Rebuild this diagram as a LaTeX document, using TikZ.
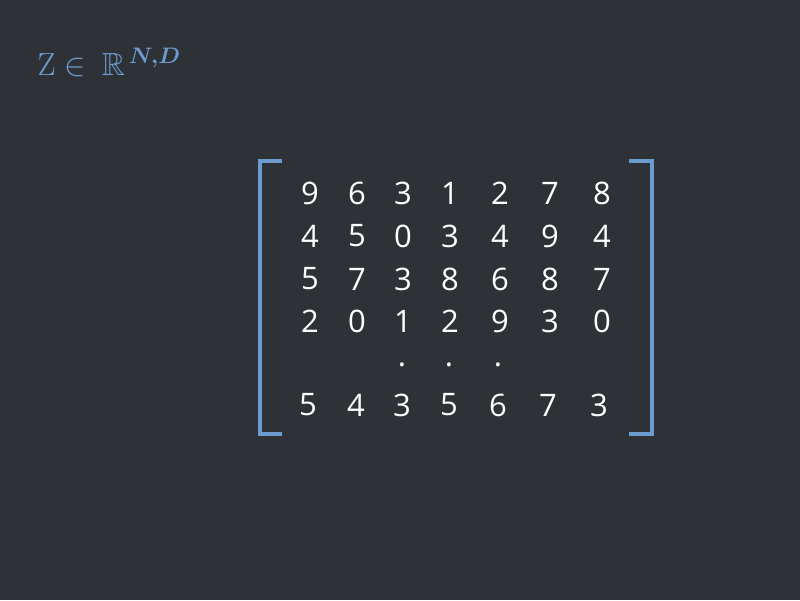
\documentclass[tikz,border=0pt]{standalone}
\usepackage{amsmath,amssymb,amsbsy}
\usepackage{fontspec}
\DeclareFontShape{OMS}{cmsy}{m}{n}{<->cmsy10}{}
\DeclareFontShape{OML}{cmm}{m}{it}{<->cmmi10}{}
\DeclareFontShape{OML}{cmm}{b}{it}{<->cmmib10}{}
\DeclareFontFamily{U}{msb}{}
\DeclareFontShape{U}{msb}{m}{n}{<-6>msbm5<6-8>msbm7<8->msbm10}{}
\newfontfamily\digitfont{Open Sans}
\definecolor{bgc}{RGB}{46,50,54}
\definecolor{accent}{RGB}{108,155,207}
\tikzset{
  digit/.style={inner sep=0pt, text=white, font=\digitfont\fontsize{31}{36}\selectfont},
  brk/.style={draw=accent, line width=4pt},
  titletext/.style={inner sep=0pt, text=accent, font=\fontsize{32}{38}\selectfont}
}
\begin{document}
\begin{tikzpicture}[x=1pt,y=-1pt]
\fill[bgc] (0,0) rectangle (800,600);
\useasboundingbox (0,0) rectangle (800,600);
\node[titletext, anchor=base west] (title) at (37.5,75) {$\mathrm{Z}\in\mkern4mu\mathbb{R}^{\mkern3mu\boldsymbol{N,D}}$};
% brackets
\coordinate (lt1) at (282,161); \coordinate (lt2) at (260,161);
\coordinate (lb1) at (260,434); \coordinate (lb2) at (282,434);
\draw[brk] (lt1) -- (lt2) -- (lb1) -- (lb2);
\coordinate (rt1) at (629,161); \coordinate (rt2) at (652,161);
\coordinate (rb1) at (652,434); \coordinate (rb2) at (629,434);
\draw[brk] (rt1) -- (rt2) -- (rb1) -- (rb2);
% rows
\foreach \v [count=\i] in {9,6,3,1,2,7,8}{
  \pgfmathsetmacro\xx{{310,357,403,450,500,550,602}[\i-1]}
  \node[digit] (a\i) at (\xx,193) {\v};}
\foreach \v [count=\i] in {4,5,0,3,4,9,4}{
  \pgfmathsetmacro\xx{{310,357,403,450,500,550,602}[\i-1]}
  \node[digit] (b\i) at (\xx,236) {\v};}
\foreach \v [count=\i] in {5,7,3,8,6,8,7}{
  \pgfmathsetmacro\xx{{310,357,403,450,500,550,602}[\i-1]}
  \node[digit] (c\i) at (\xx,279) {\v};}
\foreach \v [count=\i] in {2,0,1,2,9,3,0}{
  \pgfmathsetmacro\xx{{310,357,403,450,500,550,602}[\i-1]}
  \node[digit] (d\i) at (\xx,321) {\v};}
\node[digit] (e1) at (402,365) {.};
\node[digit] (e2) at (449,365) {.};
\node[digit] (e3) at (498,365) {.};
\foreach \v [count=\i] in {5,4,3,5,6,7,3}{
  \pgfmathsetmacro\xx{{308,356,402,449,498,548,599}[\i-1]}
  \node[digit] (f\i) at (\xx,405) {\v};}
\end{tikzpicture}
\end{document}
